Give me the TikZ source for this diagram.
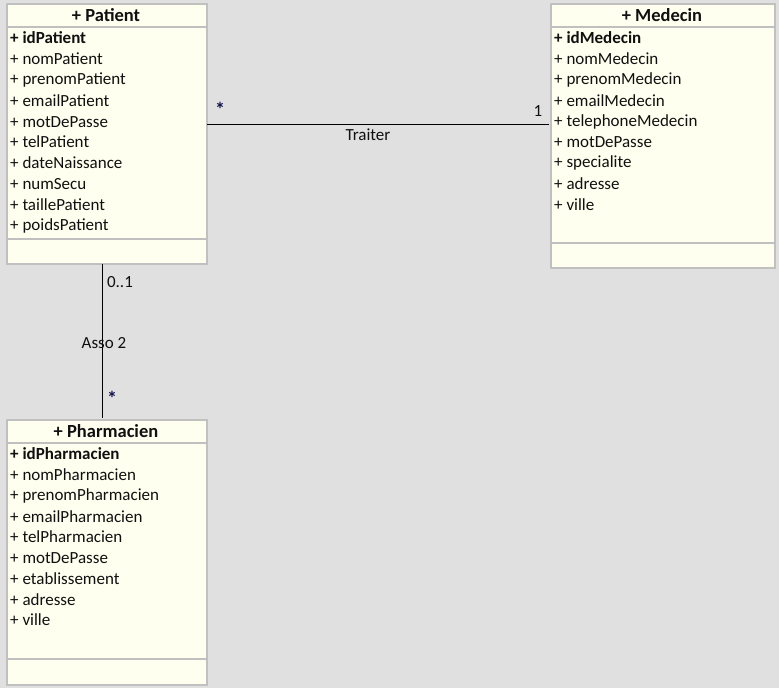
\documentclass[tikz,border=0pt]{standalone}
\usepackage{fontspec}
\setmainfont{Carlito}
\definecolor{bgc}{HTML}{E0E0E0}
\definecolor{boxfill}{HTML}{FFFFF0}
\definecolor{boxline}{HTML}{C0C0C0}
\definecolor{txt}{HTML}{101010}
\definecolor{mult}{HTML}{10104A}
\tikzset{
  classbox/.style={draw=boxline, line width=2pt, fill=boxfill, rectangle, anchor=north west, inner sep=0pt},
  sepline/.style={draw=boxline, line width=2pt},
  attr/.style={anchor=west, inner sep=0pt, text=txt, font=\fontsize{17}{19}\selectfont},
  keyattr/.style={attr, font=\fontsize{17}{19}\selectfont\bfseries},
  title/.style={inner sep=0pt, text=txt, font=\fontsize{18.5}{20}\selectfont\bfseries},
  lbl/.style={inner sep=0pt, text=txt, font=\fontsize{17}{19}\selectfont},
  multl/.style={inner sep=0pt, text=mult, font=\fontsize{20}{22}\selectfont\bfseries},
  assoc/.style={draw=black, line width=1pt}
}
\begin{document}
\begin{tikzpicture}[x=1pt,y=-1pt]
\fill[bgc] (0,0) rectangle (779,688);
\useasboundingbox (0,0) rectangle (779,688);
% Patient
\node[classbox, minimum width=200pt, minimum height=260pt] (pat) at (6,3) {};
\draw[sepline] (6,27) -- (206,27);
\draw[sepline] (6,239) -- (206,239);
\node[title] (patT) at (106,15) {+ Patient};
\node[keyattr] (p1) at (10,38) {+ idPatient};
\node[attr] (p2) at (10,59) {+ nomPatient};
\node[attr] (p3) at (10,80) {+ prenomPatient};
\node[attr] (p4) at (10,101) {+ emailPatient};
\node[attr] (p5) at (10,122) {+ motDePasse};
\node[attr] (p6) at (10,142) {+ telPatient};
\node[attr] (p7) at (10,163) {+ dateNaissance};
\node[attr] (p8) at (10,184) {+ numSecu};
\node[attr] (p9) at (10,205) {+ taillePatient};
\node[attr] (p10) at (10,226) {+ poidsPatient};
% Medecin
\node[classbox, minimum width=224pt, minimum height=264pt] (med) at (550,3) {};
\draw[sepline] (550,27) -- (774,27);
\draw[sepline] (550,243) -- (774,243);
\node[title] (medT) at (662,15) {+ Medecin};
\node[keyattr] (m1) at (554,38) {+ idMedecin};
\node[attr] (m2) at (554,59) {+ nomMedecin};
\node[attr] (m3) at (554,80) {+ prenomMedecin};
\node[attr] (m4) at (554,101) {+ emailMedecin};
\node[attr] (m5) at (554,122) {+ telephoneMedecin};
\node[attr] (m6) at (554,142) {+ motDePasse};
\node[attr] (m7) at (554,163) {+ specialite};
\node[attr] (m8) at (554,184) {+ adresse};
\node[attr] (m9) at (554,205) {+ ville};
% Pharmacien
\node[classbox, minimum width=200pt, minimum height=265pt] (pha) at (6,419) {};
\draw[sepline] (6,443) -- (206,443);
\draw[sepline] (6,659) -- (206,659);
\node[title] (phaT) at (106,431) {+ Pharmacien};
\node[keyattr] (f1) at (10,454) {+ idPharmacien};
\node[attr] (f2) at (10,475) {+ nomPharmacien};
\node[attr] (f3) at (10,496) {+ prenomPharmacien};
\node[attr] (f4) at (10,517) {+ emailPharmacien};
\node[attr] (f5) at (10,537) {+ telPharmacien};
\node[attr] (f6) at (10,558) {+ motDePasse};
\node[attr] (f7) at (10,579) {+ etablissement};
\node[attr] (f8) at (10,600) {+ adresse};
\node[attr] (f9) at (10,620) {+ ville};
% Associations
\coordinate (t1) at (207,124);
\coordinate (t2) at (549,124);
\draw[assoc] (t1) -- (t2);
\node[multl] (ts) at (220,109) {*};
\node[lbl] (t1l) at (538,111) {1};
\node[lbl] (tl) at (368,135) {Traiter};
\coordinate (a1) at (102,264);
\coordinate (a2) at (102,418);
\draw[assoc] (a1) -- (a2);
\node[lbl] (a01) at (120,282) {0..1};
\node[lbl] (al) at (104,343) {Asso 2};
\node[multl] (as) at (112,398) {*};
\end{tikzpicture}
\end{document}
